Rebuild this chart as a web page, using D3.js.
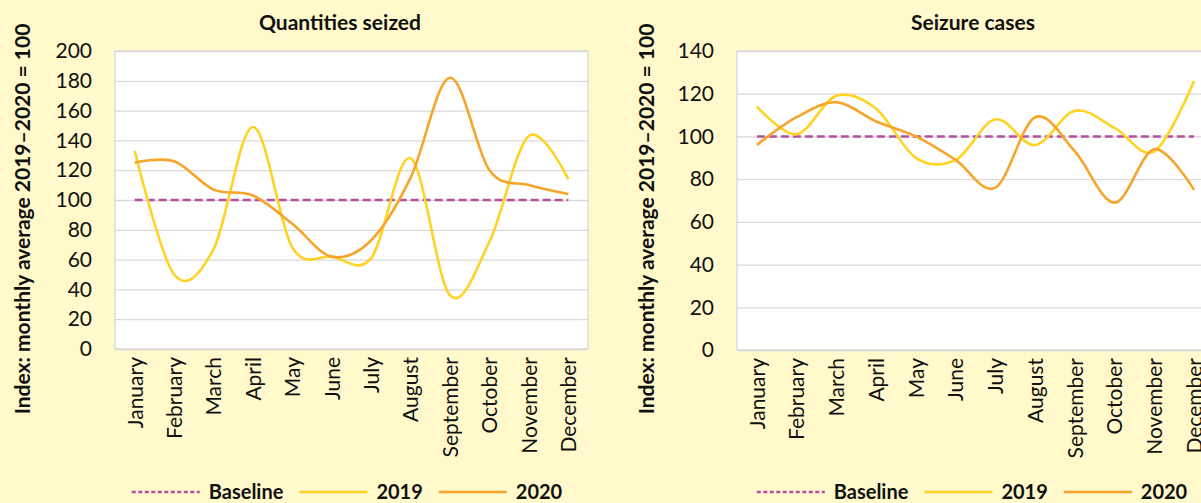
<!DOCTYPE html>
<html>
<head>
<meta charset="utf-8">
<script src="https://cdn.jsdelivr.net/npm/d3@7"></script>
<style>
  html, body { margin: 0; padding: 0; background: #FFF9CC; }
  svg { display: block; font-family: Lato, "Open Sans", sans-serif; }
</style>
</head>
<body>
<div id="chart"></div>
<script>
// data (index: monthly average 2019-2020 = 100)
const months = ["January", "February", "March", "April", "May", "June",
  "July", "August", "September", "October", "November", "December"];

const qty2019 = [133, 50, 67, 149, 68, 62, 61, 128, 36, 72, 143, 114];
const qty2020 = [125, 126, 107, 103, 84, 62, 73, 115, 182, 120, 110, 104];

const cases2019 = [114, 101, 119, 113, 90, 89, 108, 96, 112, 104, 93, 126];
const cases2020 = [96, 109, 116, 107, 100, 89, 76, 109, 93, 69, 94, 75];

const baseline = 100;

const qtyTicks = [0, 20, 40, 60, 80, 100, 120, 140, 160, 180, 200];
const casesTicks = [0, 20, 40, 60, 80, 100, 120, 140];

const yTitle = "Index: monthly average 2019\u20132020 = 100";

const colors = { baseline: "#B4519E", y2019: "#FFD324", y2020: "#F7A42A" };

const W = 1201, H = 503;

const svg = d3.select("#chart").append("svg")
  .attr("width", W)
  .attr("height", H);

svg.append("rect")
  .attr("width", W)
  .attr("height", H)
  .attr("fill", "#FFF9CC");

// one panel per chart, the right one runs off the window like the original
const panels = [
  { title: "Quantities seized", s2019: qty2019, s2020: qty2020, ticks: qtyTicks,
    left: 115, right: 588, top: 51, bottom: 349, titleX: 340, yTitleX: 23, legendX: 347 },
  { title: "Seizure cases", s2019: cases2019, s2020: cases2020, ticks: casesTicks,
    left: 737, right: 1214, top: 51, bottom: 350, titleX: 973, yTitleX: 647, legendX: 972 }
];

panels.forEach(drawPanel);

function drawPanel(p) {
  let g = svg.append("g");

  let x = d3.scalePoint()
    .domain(months)
    .range([p.left, p.right])
    .padding(0.5);

  let y = d3.scaleLinear()
    .domain([0, d3.max(p.ticks)])
    .range([p.bottom, p.top]);

  // plot area
  g.append("rect")
    .attr("x", p.left)
    .attr("y", p.top)
    .attr("width", p.right - p.left)
    .attr("height", p.bottom - p.top)
    .attr("fill", "#fff")
    .attr("stroke", "#D9D9D9")
    .attr("stroke-width", 1.3);

  // gridlines
  g.append("g")
    .attr("transform", `translate(${p.left},0)`)
    .call(d3.axisLeft(y).tickValues(p.ticks).tickSize(-(p.right - p.left)).tickFormat(""))
    .call(a => a.select(".domain").remove())
    .call(a => a.selectAll("line").attr("stroke", "#D9D9D9").attr("stroke-width", 1.3));

  // y tick labels
  g.append("g")
    .attr("transform", `translate(${p.left},0)`)
    .call(d3.axisLeft(y).tickValues(p.ticks).tickSize(0).tickPadding(23))
    .call(a => a.select(".domain").remove())
    .call(a => a.selectAll("text")
      .attr("fill", "#111")
      .style("font-size", "21px")
      .style("font-family", "Lato, sans-serif"));

  // x tick labels, rotated
  g.append("g")
    .attr("transform", `translate(0,${p.bottom})`)
    .call(d3.axisBottom(x).tickSize(0))
    .call(a => a.select(".domain").remove())
    .call(a => a.selectAll("text")
      .attr("transform", "rotate(-90)")
      .attr("x", -8)
      .attr("y", 0)
      .attr("dy", "0.35em")
      .attr("text-anchor", "end")
      .attr("fill", "#111")
      .style("font-size", "21px")
      .style("font-family", "Lato, sans-serif"));

  // baseline
  g.append("line")
    .attr("x1", x(months[0]))
    .attr("x2", x(months[months.length - 1]))
    .attr("y1", y(baseline))
    .attr("y2", y(baseline))
    .attr("stroke", colors.baseline)
    .attr("stroke-width", 2.6)
    .attr("stroke-dasharray", "8,4");

  let line = d3.line()
    .x((d, i) => x(months[i]))
    .y(d => y(d))
    .curve(d3.curveCardinal.tension(0));

  g.append("path")
    .datum(p.s2019)
    .attr("d", line)
    .attr("fill", "none")
    .attr("stroke", colors.y2019)
    .attr("stroke-width", 2.6);

  g.append("path")
    .datum(p.s2020)
    .attr("d", line)
    .attr("fill", "none")
    .attr("stroke", colors.y2020)
    .attr("stroke-width", 2.6);

  // title
  g.append("text")
    .attr("x", p.titleX)
    .attr("y", 30)
    .attr("text-anchor", "middle")
    .attr("font-weight", "bold")
    .attr("font-size", 21)
    .attr("fill", "#111")
    .text(p.title);

  // y axis title
  g.append("text")
    .attr("transform", `translate(${p.yTitleX},219) rotate(-90)`)
    .attr("text-anchor", "middle")
    .attr("dy", "0.35em")
    .attr("font-weight", "bold")
    .attr("font-size", 21)
    .attr("fill", "#111")
    .text(yTitle);

  // legend
  let items = [
    { label: "Baseline", color: colors.baseline, dash: "4,2.5" },
    { label: "2019", color: colors.y2019, dash: null },
    { label: "2020", color: colors.y2020, dash: null }
  ];
  let leg = g.append("g");
  let cx = 0;
  items.forEach((it, i) => {
    leg.append("line")
      .attr("x1", cx).attr("x2", cx + 68)
      .attr("y1", 492).attr("y2", 492)
      .attr("stroke", it.color)
      .attr("stroke-width", 2.6)
      .attr("stroke-dasharray", it.dash);
    let t = leg.append("text")
      .attr("x", cx + 77)
      .attr("y", 492)
      .attr("dy", "0.35em")
      .attr("font-weight", "bold")
      .attr("font-size", 20)
      .attr("fill", "#111")
      .text(it.label);
    cx += 77 + t.node().getComputedTextLength() + 16;
  });
  let legW = cx - 16;
  leg.attr("transform", `translate(${p.legendX - legW / 2},0)`);
}
</script>
</body>
</html>
